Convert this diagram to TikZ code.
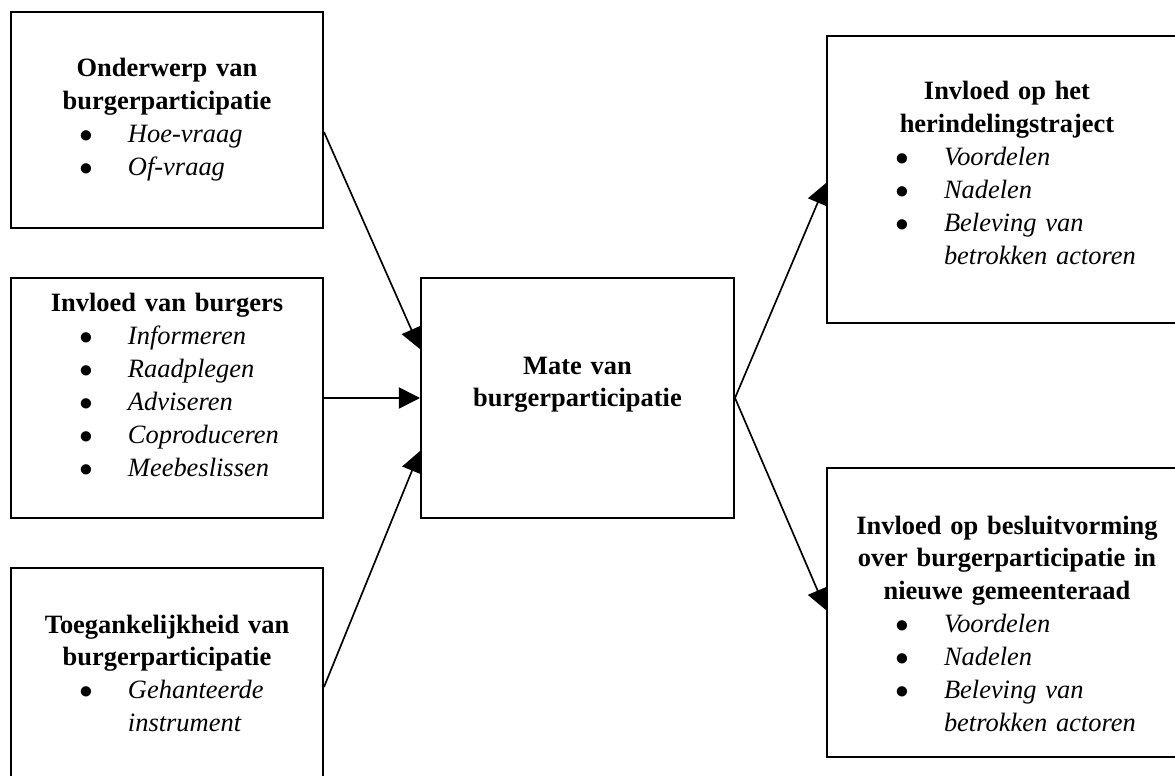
\documentclass[tikz,border=0pt]{standalone}
\usepackage{fontspec}
\setmainfont{Liberation Serif}
\usetikzlibrary{arrows.meta, positioning}
\newcommand{\itm}[1]{\par\noindent\hspace*{30.75pt}\makebox[21.9pt][l]{$\bullet$}\textit{#1}\par}
\newcommand{\itmx}[1]{\par\noindent\hspace*{52.65pt}\textit{#1}\par}

\begin{document}
\begin{tikzpicture}[
    x=0.45pt, y=-0.45pt,
    box/.style={draw, line width=0.9pt, inner sep=0pt, text width=140.4pt, text height=10pt, font=\fontsize{11.9pt}{14.8pt}\selectfont},
    arrow/.style={-{Triangle[length=9.5pt, width=9.5pt]}, line width=0.75pt}
  ]
  \useasboundingbox (0,0) rectangle (1175,776);
  \clip (0,0) rectangle (1175,776);
  \node[box, minimum height=97.2pt, text depth=48.7pt] (onder) at (167,120)
    {{\centering\bfseries Onderwerp van\\burgerparticipatie\par}\itm{Hoe-vraag}\itm{Of-vraag}};
  \node[box, below=21.6pt of onder, minimum height=108pt, text depth=87.4pt] (burgers)
    {{\centering\bfseries Invloed van burgers\par}\itm{Informeren}\itm{Raadplegen}\itm{Adviseren}\itm{Coproduceren}\itm{Meebeslissen}};
  \node[box, below=21.6pt of burgers, minimum height=96.3pt, text depth=47.8pt] (toegank)
    {{\centering\bfseries Toegankelijkheid van\\burgerparticipatie\par}\itm{Gehanteerde}\itmx{instrument}};
  \node[box, right=43.2pt of burgers, text width=140.85pt, minimum height=108pt, text depth=31.6pt] (mate)
    {{\centering\bfseries Mate van\\burgerparticipatie\par}};
  \node[box, text width=162pt, minimum height=129.15pt, text depth=81.6pt] (traject) at (1007,179.5)
    {{\centering\bfseries Invloed op het\\herindelingstraject\par}\itm{Voordelen}\itm{Nadelen}\itm{Beleving van}\itmx{betrokken actoren}};
  \node[box, text width=162pt, minimum height=130.05pt, text depth=80.6pt] (besluit) at (1007,612.5)
    {{\centering\bfseries Invloed op besluitvorming\\over burgerparticipatie in\\nieuwe gemeenteraad\par}\itm{Voordelen}\itm{Nadelen}\itm{Beleving van}\itmx{betrokken actoren}};
  \draw[arrow] ([yshift=-5.4pt]onder.east) -- ([yshift=22pt]mate.west);
  \draw[arrow] (burgers.east) -- (mate.west);
  \draw[arrow] ([yshift=-5.4pt]toegank.east) -- ([yshift=-23.85pt]mate.west);
  \draw[arrow] (mate.east) -- ([yshift=-1.6pt]traject.west);
  \draw[arrow] (mate.east) -- ([yshift=1.1pt]besluit.west);
\end{tikzpicture}
\end{document}
